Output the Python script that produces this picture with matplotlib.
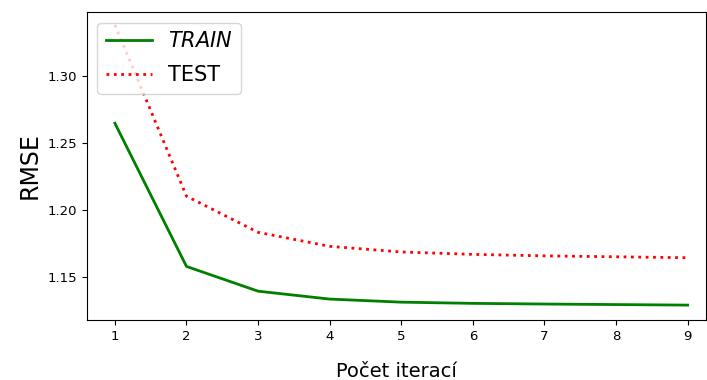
import matplotlib.pyplot as plt

# --- Datos ---
iteraciones = [1, 2, 3, 4, 5, 6, 7, 8, 9]
rmse_train = [1.265, 1.158, 1.1395, 1.1336, 1.1313, 1.1304, 1.1299, 1.1295, 1.1291]
rmse_test = [1.3385, 1.2105, 1.1835, 1.1730, 1.1688, 1.1670, 1.1659, 1.1652, 1.1645]

fig = plt.figure(figsize=(7.07, 3.8), dpi=100)
ax = fig.add_axes([0.123, 0.158, 0.875, 0.81])

ax.plot(iteraciones, rmse_train, color='green', linewidth=2, label='$TRAIN$')
ax.plot(iteraciones, rmse_test, color='red', linestyle=':', linewidth=2, label='TEST')

ax.set_xlim(0.61, 9.25)
ax.set_ylim(1.118, 1.348)
ax.set_xticks(iteraciones)
ax.set_yticks([1.15, 1.20, 1.25, 1.30])
ax.tick_params(labelsize=9.5)

ax.set_xlabel('Počet iterací', fontsize=14, labelpad=14)
ax.set_ylabel('RMSE', fontsize=17)

ax.legend(loc='upper left', fontsize=15, handlelength=2.2, labelspacing=0.7)

fig.savefig('out.png', dpi=100)
